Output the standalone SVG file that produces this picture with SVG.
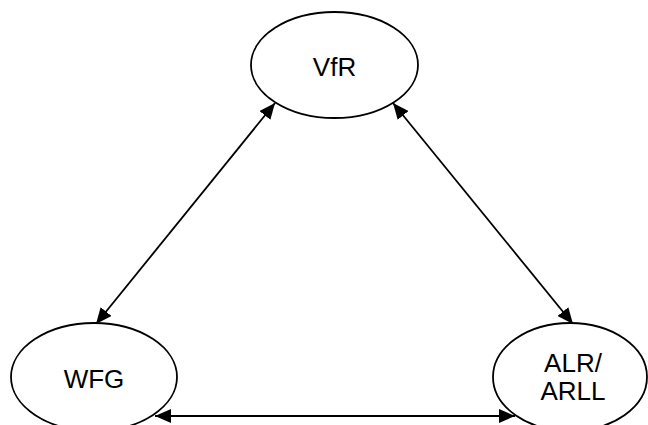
<svg xmlns="http://www.w3.org/2000/svg" width="648" height="425" viewBox="0 0 648 425">
  <style>
    .node ellipse { fill: #ffffff; stroke: #000000; stroke-width: 1.8; }
    .node text { font-family: "Liberation Sans", Arial, sans-serif; font-size: 26px; fill: #000000; text-anchor: middle; }
    .edge { stroke: #000000; stroke-width: 1.8; fill: none; marker-start: url(#arrow); marker-end: url(#arrow); }
  </style>
  <defs>
    <marker id="arrow" markerUnits="userSpaceOnUse" markerWidth="18" markerHeight="14" refX="16" refY="7" orient="auto-start-reverse">
      <path d="M0,0 L16,7 L0,14 z" fill="#000000"/>
    </marker>
  </defs>
  <rect width="648" height="425" fill="#ffffff"/>

  <g id="connectors">
    <line class="edge" x1="275" y1="103" x2="96" y2="324"/>
    <line class="edge" x1="393" y1="103" x2="573" y2="324"/>
    <line class="edge" x1="155" y1="416" x2="515" y2="416"/>
  </g>

  <g id="node-vfr" class="node">
    <ellipse cx="334.5" cy="65" rx="83.5" ry="53"/>
    <text x="334.5" y="76">VfR</text>
  </g>

  <g id="node-wfg" class="node">
    <ellipse cx="94" cy="377" rx="83" ry="54"/>
    <text x="94" y="388">WFG</text>
  </g>

  <g id="node-alr" class="node">
    <ellipse cx="570" cy="377" rx="77" ry="54"/>
    <text x="573" y="372">ALR/</text>
    <text x="573" y="400">ARLL</text>
  </g>
</svg>
